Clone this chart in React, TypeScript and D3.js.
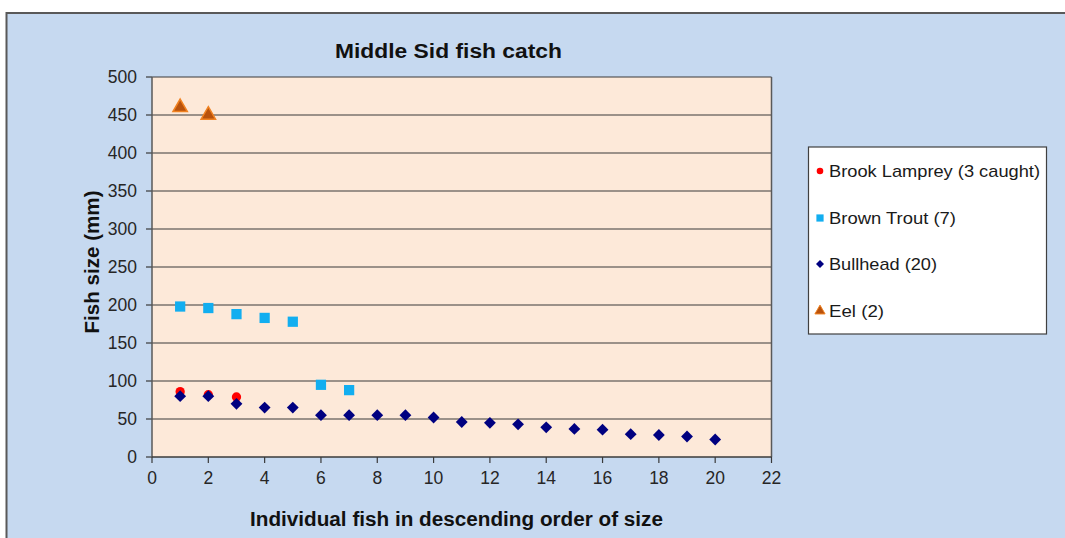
import React from 'react';
import * as d3 from 'd3';

// values (mm), x = rank in descending order of size
const lampreySizes = [86, 82, 79];
const troutSizes = [198, 196, 188, 183, 178, 95, 88];
const bullheadSizes = [80, 80, 70, 65, 65, 55, 55, 55, 55, 52, 46, 45, 43, 39, 37, 36, 30, 29, 27, 23];
const eelSizes = [460, 450];

const yTicks = [0, 50, 100, 150, 200, 250, 300, 350, 400, 450, 500];
const xTicks = [0, 2, 4, 6, 8, 10, 12, 14, 16, 18, 20, 22];

const series = [
  { name: 'Brook Lamprey (3 caught)', values: lampreySizes, shape: d3.symbolCircle, size: 68, rot: 0, fill: '#ff0000', stroke: 'none', legendSize: 34, textLen: 211 },
  { name: 'Brown Trout (7)', values: troutSizes, shape: d3.symbolSquare, size: 105, rot: 0, fill: '#12aef0', stroke: 'none', legendSize: 52, textLen: 127 },
  { name: 'Bullhead (20)', values: bullheadSizes, shape: d3.symbolSquare, size: 70, rot: 45, fill: '#000080', stroke: 'none', legendSize: 32, textLen: 108 },
  { name: 'Eel (2)', values: eelSizes, shape: d3.symbolTriangle, size: 90, rot: 0, fill: '#b9520c', stroke: '#f08222', legendSize: 45, textLen: 55 },
];

const W = 1065;
const H = 538;
const plot = { left: 152, top: 77, right: 771.5, bottom: 457 };
const font = 'Arial, "Liberation Sans", sans-serif';

const App: React.FC = () => {
  const x = d3.scaleLinear().domain([0, 22]).range([plot.left, plot.right]);
  const y = d3.scaleLinear().domain([0, 500]).range([plot.bottom, plot.top]);

  const legendRows = [171, 218, 264, 311];

  return (
    <div style={{ position: 'absolute', left: 0, top: 0 }}>
      <svg width={W} height={H} style={{ display: 'block' }}>
        <rect x={0} y={0} width={W} height={H} fill="#ffffff" />
        {/* chart frame */}
        <rect x={6.5} y={13} width={W + 20} height={H + 20} fill="#c6d9f0" stroke="#595959" strokeWidth={2} />

        <text x={335} y={58} textLength={227} lengthAdjust="spacingAndGlyphs" fontFamily={font} fontWeight="bold" fontSize={19.5} fill="#111">
          Middle Sid fish catch
        </text>

        {/* plot area */}
        <rect x={plot.left} y={plot.top} width={plot.right - plot.left} height={plot.bottom - plot.top} fill="#fde9d9" />
        {yTicks.map(t => (
          <g key={'y' + t}>
            {t > 0 && (
              <line x1={plot.left} x2={plot.right} y1={y(t)} y2={y(t)} stroke="#3a3a3a" strokeWidth={1.2} />
            )}
            <line x1={plot.left - 6} x2={plot.left} y1={y(t)} y2={y(t)} stroke="#3a3a3a" strokeWidth={1.2} />
            <text x={137} y={y(t) + 6} textAnchor="end" fontFamily={font} fontSize={17.5} fill="#262626">
              {t}
            </text>
          </g>
        ))}
        {xTicks.map(t => (
          <g key={'x' + t}>
            <line x1={x(t)} x2={x(t)} y1={plot.bottom} y2={plot.bottom + 6} stroke="#3a3a3a" strokeWidth={1.2} />
            <text x={x(t)} y={484} textAnchor="middle" fontFamily={font} fontSize={17.5} fill="#262626">
              {t}
            </text>
          </g>
        ))}
        <line x1={plot.left} x2={plot.left} y1={plot.top} y2={plot.bottom} stroke="#595959" strokeWidth={1.5} />
        <line x1={plot.right} x2={plot.right} y1={plot.top} y2={plot.bottom} stroke="#595959" strokeWidth={1.5} />
        <line x1={plot.left} x2={plot.right} y1={plot.bottom} y2={plot.bottom} stroke="#3a3a3a" strokeWidth={1.5} />

        {/* points */}
        {series.map(s => {
          const path = d3.symbol().type(s.shape).size(s.size)() as string;
          return (
            <g key={s.name}>
              {s.values.map((v, i) => (
                <path
                  key={i}
                  d={path}
                  transform={`translate(${x(i + 1)},${y(v)}) rotate(${s.rot})`}
                  fill={s.fill}
                  stroke={s.stroke}
                  strokeWidth={s.stroke === 'none' ? 0 : 1.5}
                />
              ))}
            </g>
          );
        })}

        {/* axis titles */}
        <text
          transform={`translate(99,${(plot.top + plot.bottom) / 2 - 5}) rotate(-90)`}
          x={-71.5}
          textLength={143}
          lengthAdjust="spacingAndGlyphs"
          fontFamily={font}
          fontWeight="bold"
          fontSize={19.5}
          fill="#111"
        >
          Fish size (mm)
        </text>
        <text x={250} y={526} textLength={413} lengthAdjust="spacingAndGlyphs" fontFamily={font} fontWeight="bold" fontSize={19.5} fill="#111">
          Individual fish in descending order of size
        </text>

        {/* legend */}
        <rect x={808.5} y={147} width={238} height={187} fill="#ffffff" stroke="#404040" strokeWidth={1.2} />
        {series.map((s, i) => {
          const path = d3.symbol().type(s.shape).size(s.legendSize)() as string;
          return (
            <g key={'leg' + s.name} transform={`translate(0,${legendRows[i]})`}>
              <path d={path} transform={`translate(820,0) rotate(${s.rot})`} fill={s.fill} stroke={s.stroke} strokeWidth={s.stroke === 'none' ? 0 : 1} />
              <text x={829} y={6} textLength={s.textLen} lengthAdjust="spacingAndGlyphs" fontFamily={font} fontSize={17} fill="#1a1a1a">
                {s.name}
              </text>
            </g>
          );
        })}
      </svg>
    </div>
  );
};

export default App;
